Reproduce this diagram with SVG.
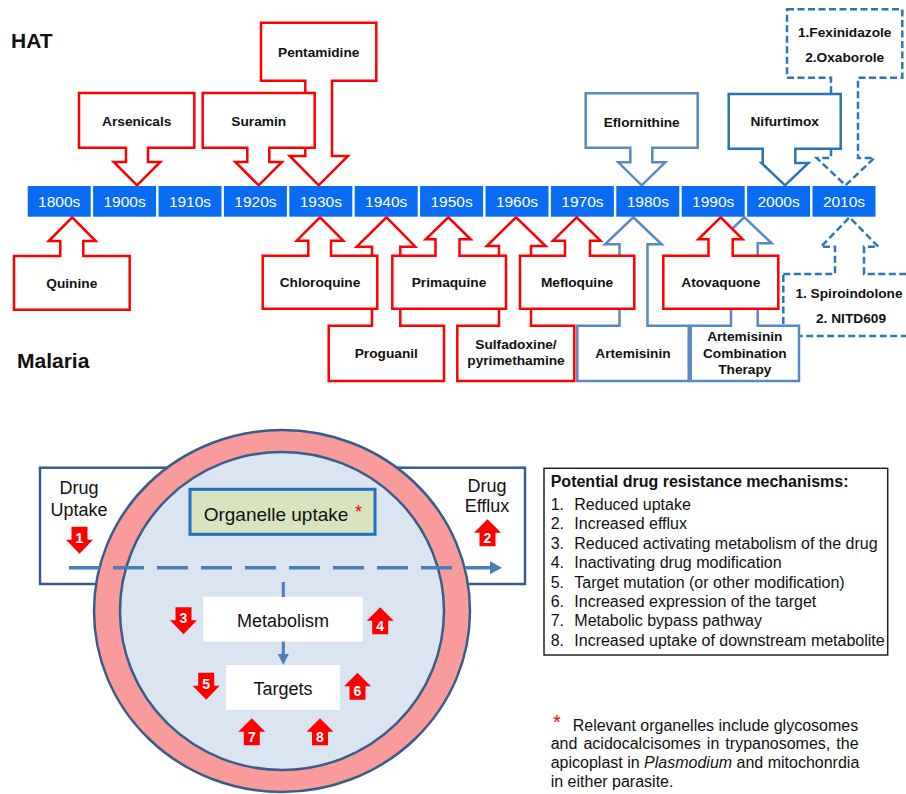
<svg xmlns="http://www.w3.org/2000/svg" width="906" height="794" viewBox="0 0 906 794">
<defs>
<style>
text{font-family:"Liberation Sans",Arial,sans-serif}
.cr{fill:#fff;stroke:#ff0000;stroke-width:2.5;stroke-linejoin:miter}
.cb{fill:#fff;stroke:#5a88c2;stroke-width:2.5}
.cn{fill:#fff;stroke:#2a72b8;stroke-width:2.5}
.cd{fill:#fff;stroke:#2e75b6;stroke-width:2.5;stroke-dasharray:7 3.5}
.lbl{font-size:13.7px;font-weight:bold;text-anchor:middle;fill:#111}
.tlr{fill:#0a6cf2}
.tlt{font-size:15.5px;fill:#fff;text-anchor:middle}
.big{font-size:21px;font-weight:bold;fill:#111}
.ra{fill:#ff0000}
.rn{font-size:14px;font-weight:bold;fill:#fff;text-anchor:middle}
.lg{font-size:16px;fill:#111}
.cell{font-size:18px;fill:#111;text-anchor:middle}
</style>
<marker id="ah" markerUnits="userSpaceOnUse" markerWidth="13" markerHeight="14" refX="0" refY="6.5" orient="auto">
<path d="M0,0 L12,6.5 L0,13 Z" fill="#4a7ebb"/>
</marker>
<marker id="ah2" markerUnits="userSpaceOnUse" markerWidth="12" markerHeight="12" refX="0" refY="5.5" orient="auto">
<path d="M0,0 L11,5.5 L0,11 Z" fill="#4a7ebb"/>
</marker>
</defs>
<rect width="906" height="794" fill="#fff"/>

<text class="big" x="11" y="47.7">HAT</text>
<text class="big" x="17" y="367.7">Malaria</text>

<!-- HAT callouts -->
<g id="pentamidine">
<path class="cr" d="M261,22.7 H376.3 V80.7 H332 V156 H348 L318.7,185.3 L289.7,156 H305.3 V80.7 H261 Z"/>
<text class="lbl" x="318.7" y="56.7">Pentamidine</text>
</g>
<g id="arsenicals">
<path class="cr" d="M79,93 H194.3 V147.7 H148 V162 H160.3 L137,185.3 L113.7,162 H126 V147.7 H79 Z"/>
<text class="lbl" x="136.7" y="126">Arsenicals</text>
</g>
<g id="suramin">
<path class="cr" d="M202.7,93 H314.7 V147.7 H269.3 V162 H282 L258.7,185.3 L235.3,162 H247.3 V147.7 H202.7 Z"/>
<text class="lbl" x="258.7" y="125.5">Suramin</text>
</g>
<g id="eflornithine">
<path class="cb" d="M585.7,93.3 H697.7 V147.7 H652.3 V162.3 H665.3 L641.7,185.3 L618.3,162.3 H630.3 V147.7 H585.7 Z"/>
<text class="lbl" x="641.7" y="126.7">Eflornithine</text>
</g>
<g id="fexinidazole">
<path class="cd" d="M787,9.3 H902.3 V77.7 H858 V158 H874.3 L845.5,185.3 L816.7,158 H831 V77.7 H787 Z"/>
<text class="lbl" x="844.7" y="36.7">1.Fexinidazole</text>
<text class="lbl" x="844.7" y="61.7">2.Oxaborole</text>
</g>
<g id="nifurtimox">
<path class="cn" d="M728.7,94 H840.7 V148.7 H795.3 V163 H808.5 L785,185.3 L761.5,163 H762.7 V148.7 H728.7 Z"/>
<text class="lbl" x="784.7" y="126">Nifurtimox</text>
</g>

<!-- Malaria callouts, back row -->
<g id="spiroindolone">
<path class="cd" d="M783.3,274 H835 V246.7 H821 L849.5,217.3 L878.3,246.7 H864 V274 H925 V336 H783.3 Z"/>
<text class="lbl" x="849" y="298.3">1. Spiroindolone</text>
<text class="lbl" x="851" y="322.7">2. NITD609</text>
</g>
<g id="proguanil">
<path class="cr" d="M328.7,325.7 H372 V246.7 H356.7 L386.5,217.3 L415.3,246.7 H400.3 V325.7 H444 V381 H328.7 Z"/>
<text class="lbl" x="386.3" y="358.3">Proguanil</text>
</g>
<g id="sulfadoxine">
<path class="cr" d="M457.3,325.7 H499 V246 H486.7 L516,217.3 L545.7,246 H531 V325.7 H574.3 V381 H457.3 Z"/>
<text class="lbl" x="516" y="349.3">Sulfadoxine/</text>
<text class="lbl" x="516" y="365">pyrimethamine</text>
</g>
<g id="artemisinin">
<path class="cb" d="M577.3,325.7 H619.5 V244.3 H605 L633.3,217.3 L661.7,244.3 H647.5 V325.7 H688.7 V381 H577.3 Z"/>
<text class="lbl" x="633" y="358.3">Artemisinin</text>
</g>
<g id="act">
<path class="cb" d="M690.7,325.7 H731 V243.3 H717 L744.3,217.3 L771.7,243.3 H757.7 V325.7 H799 V381 H690.7 Z"/>
<text class="lbl" x="744.8" y="341">Artemisinin</text>
<text class="lbl" x="744.8" y="357.7">Combination</text>
<text class="lbl" x="744.8" y="374.3">Therapy</text>
</g>
<!-- front row -->
<g id="quinine">
<path class="cr" d="M14,256 H60.3 V241 H48.7 L72.2,217.3 L95.7,241 H83.3 V256 H129.7 V309.7 H14 Z"/>
<text class="lbl" x="71.8" y="288.3">Quinine</text>
</g>
<g id="chloroquine">
<path class="cr" d="M262.7,255.7 H308.3 V240.7 H296.7 L320,217.3 L343.3,240.7 H331 V255.7 H377.3 V308.7 H262.7 Z"/>
<text class="lbl" x="320" y="287.3">Chloroquine</text>
</g>
<g id="primaquine">
<path class="cr" d="M392.3,255.7 H435.5 V239.3 H425.7 L448.3,217.3 L470.7,239.3 H459.5 V255.7 H506 V308.7 H392.3 Z"/>
<text class="lbl" x="449" y="286.7">Primaquine</text>
</g>
<g id="mefloquine">
<path class="cr" d="M520,255.7 H565 V240.7 H553 L576.7,217.3 L600.5,240.7 H590 V255.7 H634.3 V308.7 H520 Z"/>
<text class="lbl" x="577" y="287">Mefloquine</text>
</g>
<g id="atovaquone">
<path class="cr" d="M663.3,255.7 H708.5 V239.3 H698.3 L720.7,217.3 L742.7,239.3 H732.7 V255.7 H778.3 V308.7 H663.3 Z"/>
<text class="lbl" x="720.8" y="287">Atovaquone</text>
</g>

<!-- timeline -->
<g id="timeline">
<rect class="tlr" x="27.7" y="186" width="63" height="30.7"/><text class="tlt" x="59.2" y="207">1800s</text>
<rect class="tlr" x="93.1" y="186" width="63" height="30.7"/><text class="tlt" x="124.6" y="207">1900s</text>
<rect class="tlr" x="158.5" y="186" width="63" height="30.7"/><text class="tlt" x="190" y="207">1910s</text>
<rect class="tlr" x="223.9" y="186" width="63" height="30.7"/><text class="tlt" x="255.4" y="207">1920s</text>
<rect class="tlr" x="289.3" y="186" width="63" height="30.7"/><text class="tlt" x="320.8" y="207">1930s</text>
<rect class="tlr" x="354.7" y="186" width="63" height="30.7"/><text class="tlt" x="386.2" y="207">1940s</text>
<rect class="tlr" x="420.1" y="186" width="63" height="30.7"/><text class="tlt" x="451.6" y="207">1950s</text>
<rect class="tlr" x="485.5" y="186" width="63" height="30.7"/><text class="tlt" x="517" y="207">1960s</text>
<rect class="tlr" x="550.9" y="186" width="63" height="30.7"/><text class="tlt" x="582.4" y="207">1970s</text>
<rect class="tlr" x="616.3" y="186" width="63" height="30.7"/><text class="tlt" x="647.8" y="207">1980s</text>
<rect class="tlr" x="681.7" y="186" width="63" height="30.7"/><text class="tlt" x="713.2" y="207">1990s</text>
<rect class="tlr" x="747.1" y="186" width="63" height="30.7"/><text class="tlt" x="778.6" y="207">2000s</text>
<rect class="tlr" x="812.5" y="186" width="63" height="30.7"/><text class="tlt" x="844" y="207">2010s</text>
</g>

<!-- cell diagram -->
<g id="membrane-box">
<rect x="40" y="467.7" width="485" height="116.3" fill="#fff" stroke="#385d8a" stroke-width="2.5"/>
<text class="cell" x="79" y="494">Drug</text>
<text class="cell" x="79" y="515.7">Uptake</text>
<text class="cell" x="487" y="491.7">Drug</text>
<text class="cell" x="487" y="512.3">Efflux</text>
</g>
<g id="cell">
<ellipse cx="282" cy="611" rx="188" ry="181" fill="#fa9b9b" stroke="#385d8a" stroke-width="2.5"/>
<ellipse cx="282" cy="611" rx="162" ry="159" fill="#dbe5f1" stroke="#385d8a" stroke-width="2.5"/>
</g>
<g id="organelle">
<rect x="190" y="489.3" width="185" height="45" fill="#d7e4bd" stroke="#1f6fc0" stroke-width="3"/>
<text x="276" y="521" font-size="19px" fill="#111" text-anchor="middle">Organelle uptake</text>
<text x="358.5" y="518" font-size="18px" fill="#ff0000" text-anchor="middle">*</text>
</g>
<g id="metabolism">
<rect x="203.3" y="596.7" width="159.4" height="45" fill="#fff"/>
<text class="cell" x="283" y="626.5">Metabolism</text>
</g>
<g id="targets">
<rect x="226" y="665" width="114" height="45" fill="#fff"/>
<text class="cell" x="283" y="695">Targets</text>
</g>

<g id="connectors">
<path d="M69,567.7 H490" fill="none" stroke="#4a7ebb" stroke-width="3.5" stroke-dasharray="31 13" marker-end="url(#ah)"/>
<path d="M283.3,582 V597" fill="none" stroke="#4a7ebb" stroke-width="3"/>
<path d="M283.3,641.7 V654" fill="none" stroke="#4a7ebb" stroke-width="3" marker-end="url(#ah2)"/>
</g>

<!-- numbered arrows -->
<g id="arrow1"><path class="ra" d="M71.5,526.7 H87.5 V539.7 H93 L79.5,553.7 L66,539.7 H71.5 Z"/><text class="rn" x="79.5" y="542.7">1</text></g>
<g id="arrow2"><path class="ra" d="M487.5,519.3 L501,532.8 H495.5 V546.3 H479.5 V532.8 H474 Z"/><text class="rn" x="487.5" y="542.8">2</text></g>
<g id="arrow3"><path class="ra" d="M175.5,607.3 H191.5 V620.3 H197 L183.5,634.3 L170,620.3 H175.5 Z"/><text class="rn" x="183.5" y="623.3">3</text></g>
<g id="arrow4"><path class="ra" d="M380.2,607.3 L393.7,620.8 H388.2 V634.3 H372.2 V620.8 H366.7 Z"/><text class="rn" x="380.2" y="630.8">4</text></g>
<g id="arrow5"><path class="ra" d="M198.2,672.7 H214.2 V685.7 H219.7 L206.2,699.7 L192.7,685.7 H198.2 Z"/><text class="rn" x="206.2" y="688.7">5</text></g>
<g id="arrow6"><path class="ra" d="M357.5,672.7 L371,686.2 H365.5 V699.7 H349.5 V686.2 H344 Z"/><text class="rn" x="357.5" y="696.2">6</text></g>
<g id="arrow7"><path class="ra" d="M251.8,718.3 L265.3,731.8 H259.8 V745.3 H243.8 V731.8 H238.3 Z"/><text class="rn" x="251.8" y="741.8">7</text></g>
<g id="arrow8"><path class="ra" d="M320,718.3 L333.5,731.8 H328 V745.3 H312 V731.8 H306.5 Z"/><text class="rn" x="320" y="741.8">8</text></g>

<!-- legend -->
<g id="legend">
<rect x="544" y="468.3" width="343.7" height="186.7" fill="#fff" stroke="#222" stroke-width="1.5"/>
<text class="lg" x="550.7" y="486.7" font-weight="bold">Potential drug resistance mechanisms:</text>
<text class="lg" x="550.7" y="510">1.</text><text class="lg" x="574.3" y="510">Reduced uptake</text>
<text class="lg" x="550.7" y="529.4">2.</text><text class="lg" x="574.3" y="529.4">Increased efflux</text>
<text class="lg" x="550.7" y="548.8">3.</text><text class="lg" x="574.3" y="548.8">Reduced activating metabolism of the drug</text>
<text class="lg" x="550.7" y="568.2">4.</text><text class="lg" x="574.3" y="568.2">Inactivating drug modification</text>
<text class="lg" x="550.7" y="587.6">5.</text><text class="lg" x="574.3" y="587.6">Target mutation (or other modification)</text>
<text class="lg" x="550.7" y="607">6.</text><text class="lg" x="574.3" y="607">Increased expression of the target</text>
<text class="lg" x="550.7" y="626.4">7.</text><text class="lg" x="574.3" y="626.4">Metabolic bypass pathway</text>
<text class="lg" x="550.7" y="645.8">8.</text><text class="lg" x="574.3" y="645.8">Increased uptake of downstream metabolite</text>
</g>

<g id="footnote">
<text x="553" y="729" font-size="20px" fill="#ff0000">*</text>
<text class="lg" x="572.7" y="730.7">Relevant organelles include glycosomes</text>
<text class="lg" x="550.7" y="749.3" word-spacing="1.6">and acidocalcisomes in trypanosomes, the</text>
<text class="lg" x="550.7" y="768.3">apicoplast in <tspan font-style="italic">Plasmodium</tspan> and mitochonrdia</text>
<text class="lg" x="550.7" y="787.3">in either parasite.</text>
</g>
</svg>
